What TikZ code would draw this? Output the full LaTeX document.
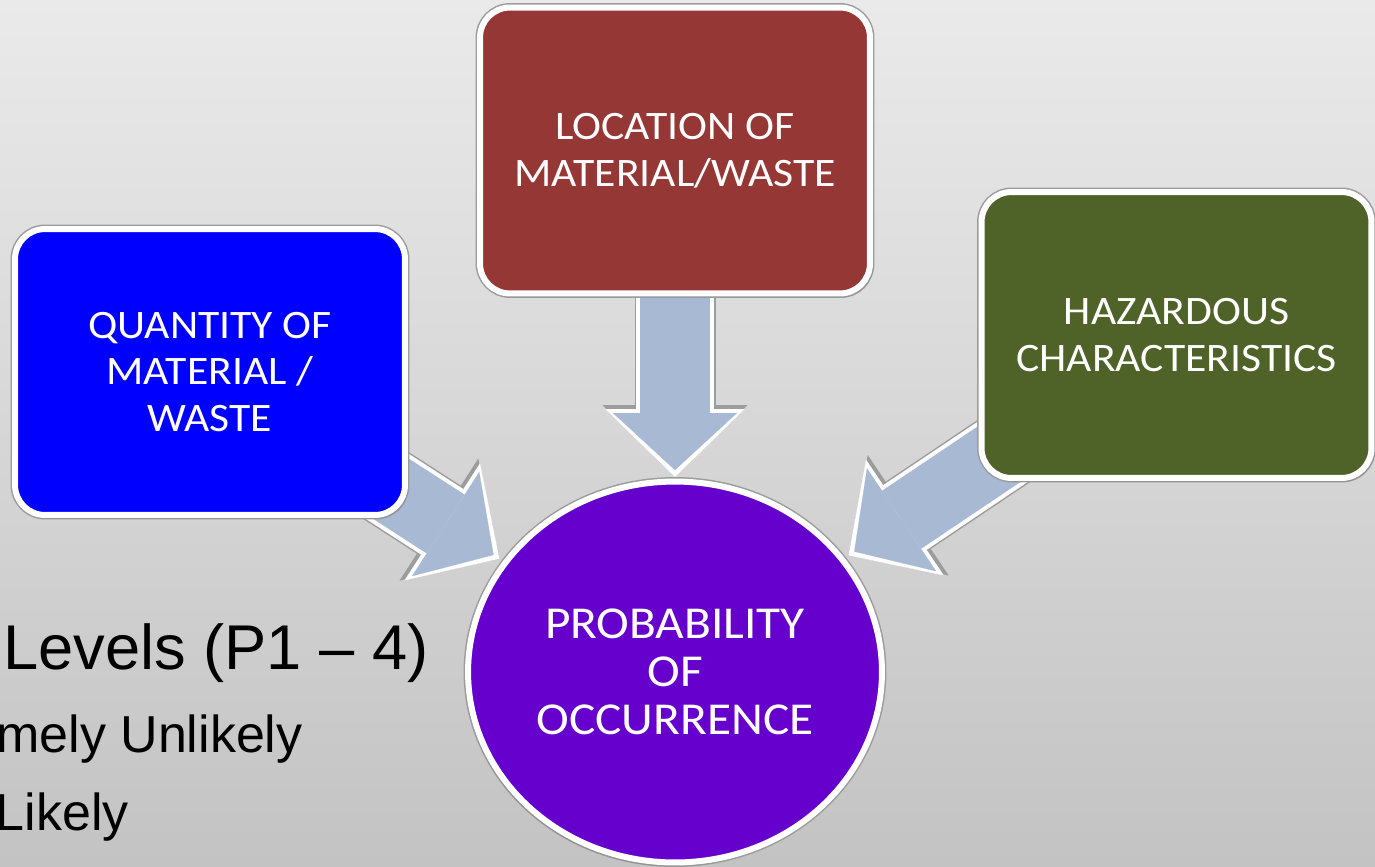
\documentclass[tikz,border=0pt]{standalone}
\usepackage{fontspec}
\setmainfont{Liberation Sans}
\newfontfamily\capsfont[FakeStretch=1.08]{Carlito}
\usetikzlibrary{arrows.meta,positioning,shapes.geometric,shadows}
\definecolor{bgtop}{HTML}{EAEAEA}
\definecolor{bgbot}{HTML}{C3C3C3}
\definecolor{qtyblue}{HTML}{0000FF}
\definecolor{locred}{HTML}{953735}
\definecolor{hazgreen}{HTML}{4F6228}
\definecolor{probviolet}{HTML}{6600CC}
\definecolor{steel}{HTML}{A8B9D4}
\definecolor{rim}{HTML}{9C9C9C}
\pgfdeclarelayer{paper}
\pgfdeclarelayer{flows}
\pgfsetlayers{paper,flows,main}
\tikzset{
  box/.style={rounded corners=0.6cm, draw=white, line width=0.12cm,
    preaction={draw=rim, line width=0.18cm},
    drop shadow={shadow xshift=0.06cm, shadow yshift=-0.08cm, opacity=0.3},
    text=white, align=center, inner sep=0pt, minimum width=7.8cm, minimum height=5.72cm,
    font=\capsfont\fontsize{23}{26.7}\selectfont},
  bubble/.style={ellipse, draw=white, line width=0.12cm,
    preaction={draw=rim, line width=0.18cm},
    drop shadow={shadow xshift=-0.05cm, shadow yshift=-0.08cm, opacity=0.3},
    fill=probviolet, text=white, align=center, inner sep=0pt,
    minimum width=8.28cm, minimum height=7.62cm,
    font=\capsfont\fontsize{26}{27.5}\selectfont},
  flow/.style={draw=steel, line width=1.4cm,
    -{Triangle[width=2.48cm, length=1.14cm, line width=0.1pt]}},
  flowhalo/.style={draw=white, line width=1.56cm,
    -{Triangle[width=2.78cm, length=1.36cm, line width=0.1pt]}},
  flowrim/.style={draw=rim, line width=1.62cm,
    -{Triangle[width=2.9cm, length=1.44cm, line width=0.1pt]}},
  note/.style={inner sep=0pt, anchor=base east, font=\fontsize{36}{40}\selectfont},
  subnote/.style={note, font=\fontsize{29.6}{34}\selectfont},
}
\begin{document}
\begin{tikzpicture}[x=0.02cm, y=-0.02cm]
  \useasboundingbox (0,0) rectangle (1375,866);
  \begin{pgfonlayer}{paper}
    \fill[top color=bgtop, bottom color=bgbot] (0,0) rectangle (1375,866);
  \end{pgfonlayer}
  % the three factors
  \node[box, fill=locred] (loc) at (675,150.5) {LOCATION OF\\MATERIAL/WASTE};
  \node[box, fill=qtyblue] (qty) at (210,372) {QUANTITY OF\\MATERIAL /\\WASTE};
  \node[box, fill=hazgreen] (haz) at (1176.5,335) {HAZARDOUS\\CHARACTERISTICS};
  % result
  \node[bubble] (prob) at (675,672) {PROBABILITY\\OF\\OCCURRENCE};
  % block arrows, behind the shapes
  \begin{pgfonlayer}{flows}
    \foreach \src/\cut/\hcut in {loc/4.04cm/3.9cm, qty/4.32cm/4.18cm, haz/4.32cm/4.18cm}{
      \draw[flowrim, shorten >=\hcut] (\src.center) -- (prob.center);
      \draw[flowhalo, shorten >=\hcut] (\src.center) -- (prob.center);
      \draw[flow, shorten >=\cut] (\src.center) -- (prob.center);
    }
  \end{pgfonlayer}
  % levels list
  \node[note] (lvl) at (429,669) {Levels (P1 – 4)};
  \node[subnote] (unl) at (303,752) {mely Unlikely};
  \node[subnote] (lik) at (129,830) {Likely};
\end{tikzpicture}
\end{document}
